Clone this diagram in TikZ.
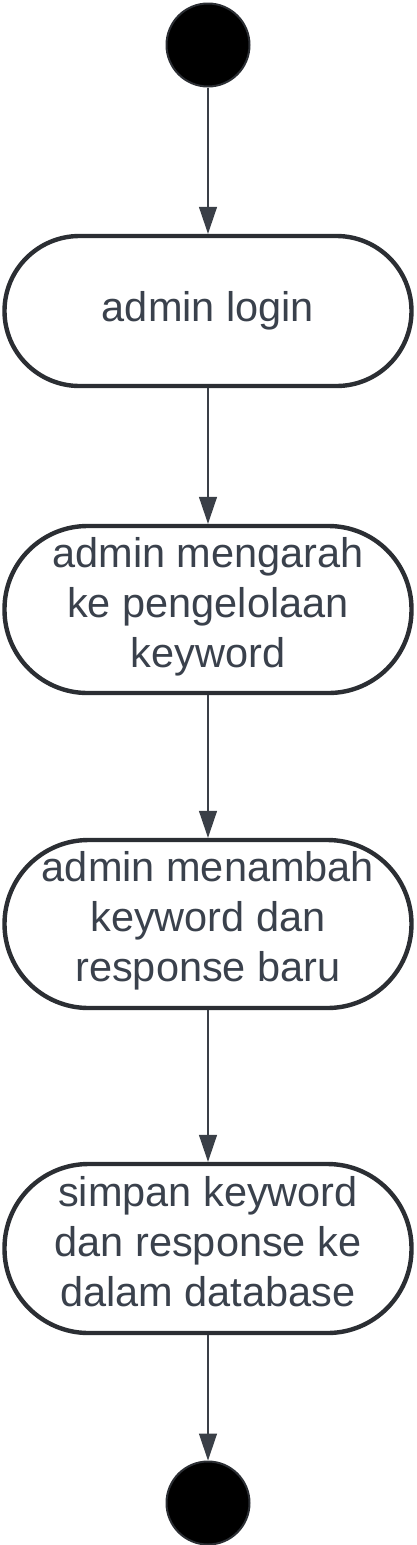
\documentclass[tikz,border=0pt]{standalone}
\usepackage{fontspec}
\setmainfont{Liberation Sans}
\usetikzlibrary{arrows.meta}
\definecolor{linegray}{RGB}{43,46,51}
\definecolor{textgray}{RGB}{58,65,76}
\definecolor{arrowgray}{RGB}{58,63,71}
\tikzstyle{activity}=[rectangle, rounded corners=75pt, draw=linegray, line width=4.4pt, minimum width=407pt, inner sep=0pt, align=center, text=textgray, font=\fontsize{41.5}{50}\selectfont, execute at begin node=\strut, execute at end node=\strut]
\tikzstyle{terminal}=[circle, draw=linegray, line width=2pt, fill=black, minimum size=83pt, inner sep=0pt]
\tikzstyle{flow}=[-{Triangle[length=27pt,width=18pt]}, draw=arrowgray, line width=1.3pt]

\begin{document}
\begin{tikzpicture}[x=1pt,y=-1pt]
\useasboundingbox (0,0) rectangle (416,1545);
\draw (208,45) node[terminal] (S) {};
\draw (208,311) node[activity, minimum height=150pt] (A1) {admin login};
\draw (208,609.5) node[activity, minimum height=167pt, rounded corners=83pt] (A2) {admin mengarah\\ke pengelolaan\\keyword};
\draw (208,924) node[activity, minimum height=168pt, rounded corners=84pt] (A3) {admin menambah\\keyword dan\\response baru};
\draw (208,1248.5) node[activity, minimum height=169pt, rounded corners=84pt] (A4) {simpan keyword\\dan response ke\\dalam database};
\draw (208,1503) node[terminal] (E) {};

\draw[flow] (S) -- (A1);
\draw[flow] (A1) -- (A2);
\draw[flow] (A2) -- (A3);
\draw[flow] (A3) -- (A4);
\draw[flow] (A4) -- (E);
\end{tikzpicture}
\end{document}
